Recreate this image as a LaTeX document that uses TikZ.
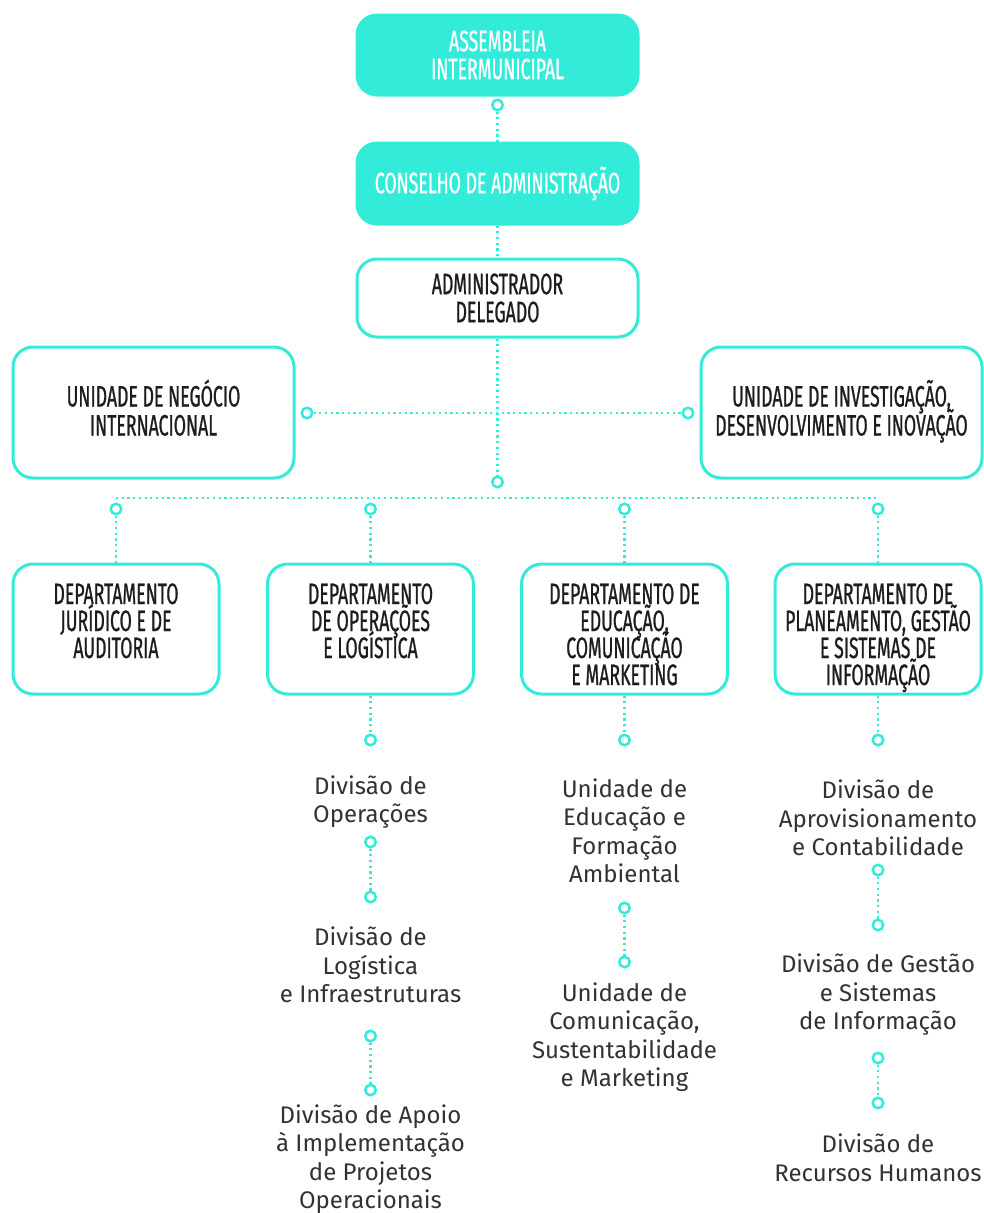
\documentclass[tikz,border=0pt]{standalone}
\usepackage{fontspec}
\setmainfont{Fira Sans}
\newfontfamily\boxfont[FakeStretch=0.6, FakeBold=0.8]{Fira Sans}
\definecolor{teal2}{RGB}{51,235,217}
\definecolor{ink}{RGB}{29,29,27}
\definecolor{divink}{RGB}{50,50,50}
\newcommand{\nolsk}{\lineskiplimit=-100pt\relax}
\newcommand{\boxsize}{\boxfont\fontsize{29.5}{28}\selectfont\nolsk}
\tikzset{
  box/.style={rounded corners=20pt, line width=3pt, draw=teal2, align=center, inner sep=0pt,
    font=\boxsize, text=ink},
  filledbox/.style={box, fill=teal2, text=white},
  deptbox/.style={box, minimum width=206pt, minimum height=130pt},
  unitbox/.style={box, minimum width=281pt, minimum height=131pt},
  divtext/.style={align=center, inner sep=0pt,
    font=\fontsize{24}{28.5}\selectfont\nolsk, text=divink},
  dotc/.style={circle, draw=teal2, line width=2.5pt, fill=white, minimum size=10.5pt, inner sep=0pt},
  dline/.style={draw=teal2, line width=2.2pt, dash pattern=on 2.2pt off 3.5pt}
}
\newcommand{\depttext}[1]{\parbox[c][106pt][t]{204pt}{\boxfont\fontsize{29.5}{27}\selectfont\nolsk\centering\rule{0pt}{28pt}#1}}
\newcommand{\unittext}[1]{\parbox[c][106pt][t]{276pt}{\boxfont\fontsize{29.5}{29}\selectfont\nolsk\centering\rule{0pt}{47pt}#1}}
\begin{document}
\begin{tikzpicture}[x=1pt,y=-1pt]
\useasboundingbox (0,0) rectangle (984,1213);
% top boxes
\node[filledbox, minimum width=281pt, minimum height=80pt] (A) at (497.5,55) {ASSEMBLEIA\\INTERMUNICIPAL};
\node[filledbox, minimum width=281pt, minimum height=81pt] (C) at (497.5,183.5) {CONSELHO DE ADMINISTRAÇÃO};
\node[box, minimum width=281pt, minimum height=78pt] (D) at (497.5,298) {ADMINISTRADOR\\DELEGADO};
% units
\node[unitbox] (UL) at (153.5,412.5) {\unittext{UNIDADE DE NEGÓCIO\\INTERNACIONAL}};
\node[unitbox] (UR) at (841.5,412.5) {\unittext{UNIDADE DE INVESTIGAÇÃO,\\DESENVOLVIMENTO E INOVAÇÃO}};
% departments
\node[deptbox] (d1) at (116,629) {\depttext{DEPARTAMENTO\\JURÍDICO E DE\\AUDITORIA}};
\node[deptbox] (d2) at (370.5,629) {\depttext{DEPARTAMENTO\\DE OPERAÇÕES\\E LOGÍSTICA}};
\node[deptbox] (d3) at (624.5,629) {\depttext{DEPARTAMENTO DE\\EDUCAÇÃO,\\COMUNICAÇÃO\\E MARKETING}};
\node[deptbox] (d4) at (878,629) {\depttext{DEPARTAMENTO DE\\PLANEAMENTO, GESTÃO\\E SISTEMAS DE\\INFORMAÇÃO}};
% circles
\node[dotc] (cA) at (497.5,105) {};
\node[dotc] (cUL) at (307,413) {};
\node[dotc] (cUR) at (688,413) {};
\node[dotc] (cM) at (497.5,482) {};
\node[dotc] (cd1) at (116,509) {};
\node[dotc] (cd2) at (370.5,509) {};
\node[dotc] (cd3) at (624.5,509) {};
\node[dotc] (cd4) at (878,509) {};
\coordinate (hL) at (116,498);
\coordinate (hR) at (879,498);
% column 2
\node[dotc] (c2a) at (370.5,740) {};
\node[divtext] (t2a) at (370.5,802) {Divisão de\\Operações};
\node[dotc] (c2b) at (370.5,842) {};
\node[dotc] (c2c) at (370.5,897) {};
\node[divtext] (t2b) at (370.5,965) {Divisão de\\Logística\\e Infraestruturas};
\node[dotc] (c2d) at (370.5,1036) {};
\node[dotc] (c2e) at (370.5,1090) {};
\node[divtext] (t2c) at (370.5,1159) {Divisão de Apoio\\à Implementação\\de Projetos\\Operacionais};
% column 3
\node[dotc] (c3a) at (624.5,740) {};
\node[divtext] (t3a) at (624.5,831) {Unidade de\\Educação e\\Formação\\Ambiental};
\node[dotc] (c3b) at (624.5,908) {};
\node[dotc] (c3c) at (624.5,962) {};
\node[divtext] (t3b) at (624.5,1037) {Unidade de\\Comunicação,\\Sustentabilidade\\e Marketing};
% column 4
\node[dotc] (c4a) at (878,740) {};
\node[divtext] (t4a) at (878,818) {Divisão de\\Aprovisionamento\\e Contabilidade};
\node[dotc] (c4b) at (878,870) {};
\node[dotc] (c4c) at (878,925) {};
\node[divtext] (t4b) at (878,995) {Divisão de Gestão\\e Sistemas\\de Informação};
\node[dotc] (c4d) at (878,1058) {};
\node[dotc] (c4e) at (878,1103) {};
\node[divtext] (t4c) at (878,1158) {Divisão de\\Recursos Humanos};
% connectors
\draw[dline] (cA) -- (C);
\draw[dline] (C) -- (D);
\draw[dline] (D) -- (cM);
\draw[dline] (cUL) -- (cUR);
\draw[dline] (hL) -- (hR);
\draw[dline] (cd1) -- (d1);
\draw[dline] (cd2) -- (d2);
\draw[dline] (cd3) -- (d3);
\draw[dline] (cd4) -- (d4);
\draw[dline] (d2) -- (c2a);
\draw[dline] (c2b) -- (c2c);
\draw[dline] (c2d) -- (c2e);
\draw[dline] (d3) -- (c3a);
\draw[dline] (c3b) -- (c3c);
\draw[dline] (d4) -- (c4a);
\draw[dline] (c4b) -- (c4c);
\draw[dline] (c4d) -- (c4e);
\end{tikzpicture}
\end{document}
